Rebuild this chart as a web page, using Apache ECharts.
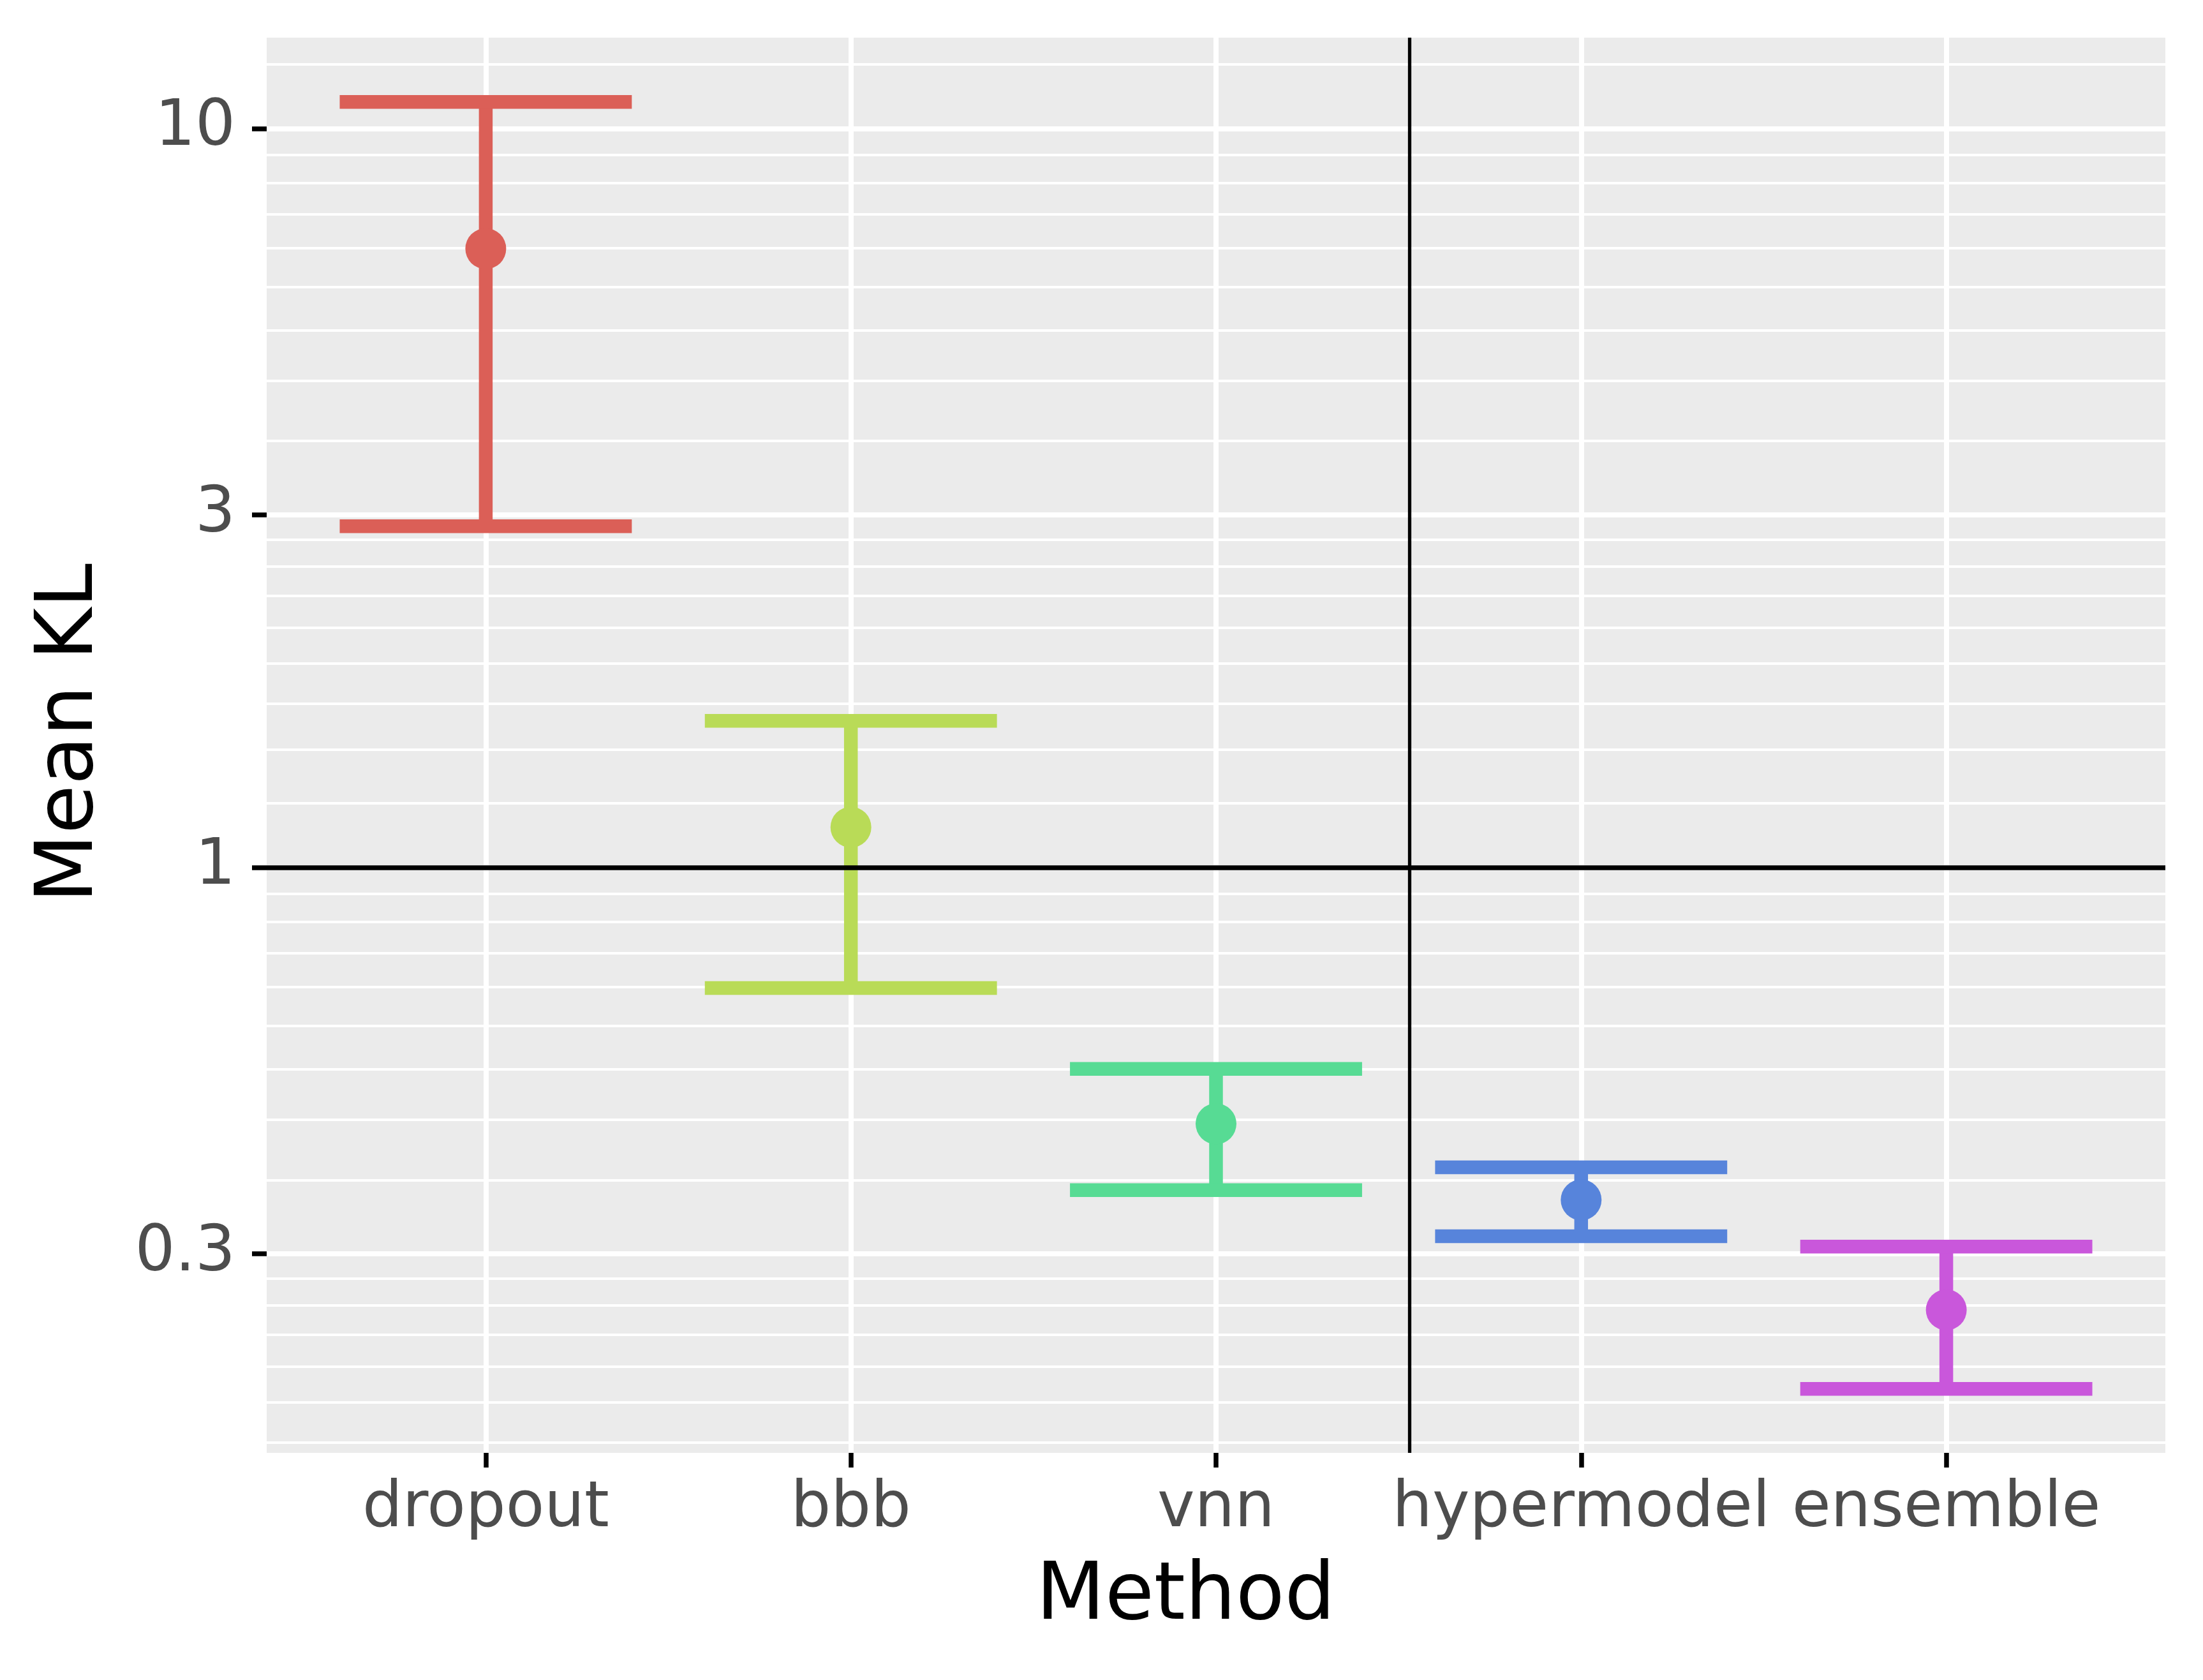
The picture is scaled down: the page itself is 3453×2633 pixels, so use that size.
<!DOCTYPE html>
<html>
<head>
<meta charset="utf-8">
<script src="https://cdn.jsdelivr.net/npm/echarts@6/dist/echarts.min.js"></script>
<style>
  html, body { margin: 0; padding: 0; background: #ffffff; }
  #chart { width: 3453px; height: 2633px; }
</style>
</head>
<body>
<div id="chart"></div>
<script>
// ---- data ----
const categories = ['dropout', 'bbb', 'vnn', 'hypermodel', 'ensemble'];
const meanKL  = [6.88, 1.134, 0.450, 0.355, 0.252];
const lowerKL = [2.897, 0.687, 0.366, 0.317, 0.197];
const upperKL = [10.87, 1.580, 0.534, 0.393, 0.307];
const colors  = ['#DB5F57', '#B9DB57', '#57DB94', '#5784DB', '#C957DB'];
const yBreaks = [0.3, 1, 3, 10];
const yLabels = ['0.3', '1', '3', '10'];
const gridBase = [0.1, 0.3, 1, 3, 10, 30];   // breaks bounding the minor grid
const hlineY = 1;
const vlineX = 3.53;
const yMin = 0.1614, yMax = 13.28;

// minor grid: 8 equally spaced values between consecutive base breaks
const yMinor = [];
for (let i = 0; i < gridBase.length - 1; i++) {
  const a = gridBase[i], b = gridBase[i + 1];
  for (let k = 1; k <= 8; k++) {
    const v = a + (b - a) * k / 9;
    if (v > yMin && v < yMax) yMinor.push(+v.toFixed(6));
  }
}
const xPositions = categories.map((c, i) => i + 1);
const barData = categories.map((c, i) => [i + 1, meanKL[i], lowerKL[i], upperKL[i]]);
const pointData = categories.map((c, i) => [i + 1, meanKL[i]]);

const FONT = 'DejaVu Sans';
const chart = echarts.init(document.getElementById('chart'), null, { renderer: 'canvas' });

chart.setOption({
  animation: false,
  backgroundColor: '#ffffff',
  grid: {
    left: 418, right: 59, top: 59, bottom: 356,
    show: true, backgroundColor: '#EBEBEB', borderWidth: 0,
    containLabel: false, outerBoundsMode: 'none'
  },
  xAxis: {
    type: 'value', min: 0.4, max: 5.6,
    name: 'Method', nameLocation: 'middle', nameGap: 165,
    nameTextStyle: { fontFamily: FONT, fontSize: 125, color: '#000000', padding: [0, 95, 0, 0] },
    axisLine: { show: false },
    axisTick: { show: true, customValues: xPositions, length: 23, lineStyle: { color: '#000000', width: 7.5 } },
    axisLabel: {
      show: true, customValues: xPositions, margin: 40,
      fontFamily: FONT, fontSize: 99, color: '#4D4D4D',
      formatter: v => categories[Math.round(v) - 1] || ''
    },
    splitLine: { show: true, lineStyle: { color: '#FFFFFF', width: 8 } }
  },
  yAxis: [
    {
      type: 'log', logBase: 10, min: yMin, max: yMax,
      name: 'Mean KL', nameLocation: 'middle', nameGap: 244,
      nameTextStyle: { fontFamily: FONT, fontSize: 125, color: '#000000', padding: [0, 0, 0, 38] },
      axisLine: { show: false },
      axisTick: { show: true, customValues: yBreaks, length: 23, lineStyle: { color: '#000000', width: 7.5 } },
      axisLabel: {
        show: true, customValues: yBreaks, margin: 49,
        fontFamily: FONT, fontSize: 99, color: '#4D4D4D',
        formatter: v => {
          let best = 0;
          yBreaks.forEach((b, i) => { if (Math.abs(Math.log(b) - Math.log(v)) < Math.abs(Math.log(yBreaks[best]) - Math.log(v))) best = i; });
          return yLabels[best];
        }
      },
      splitLine: { show: true, lineStyle: { color: '#FFFFFF', width: 8 } },
      z: 1
    },
    {
      type: 'log', logBase: 10, min: yMin, max: yMax, position: 'left',
      axisLine: { show: false },
      axisTick: { show: false, customValues: yMinor },
      axisLabel: { show: false, customValues: yMinor },
      splitLine: { show: true, lineStyle: { color: '#FFFFFF', width: 4 } },
      z: 0
    }
  ],
  series: [
    {
      type: 'line', data: [], silent: true, z: 1,
      markLine: {
        silent: true, symbol: ['none', 'none'], label: { show: false },
        animation: false,
        lineStyle: { color: '#000000', type: 'solid' },
        data: [
          { yAxis: hlineY, lineStyle: { color: '#000000', width: 7.5, type: 'solid' } },
          { xAxis: vlineX, lineStyle: { color: '#000000', width: 5.3, type: 'solid' } }
        ]
      }
    },
    {
      type: 'custom', z: 3, silent: true,
      data: barData,
      encode: { x: 0, y: [1, 2, 3] },
      renderItem: function (params, api) {
        const x = api.value(0), lo = api.value(2), hi = api.value(3);
        const c = colors[params.dataIndex];
        const top = api.coord([x, hi]), bot = api.coord([x, lo]);
        const tl = api.coord([x - 0.4, hi]), tr = api.coord([x + 0.4, hi]);
        const bl = api.coord([x - 0.4, lo]), br = api.coord([x + 0.4, lo]);
        const st = { stroke: c, lineWidth: 21.5, lineCap: 'butt', fill: null };
        return {
          type: 'group',
          children: [
            { type: 'line', shape: { x1: top[0], y1: top[1], x2: bot[0], y2: bot[1] }, style: st },
            { type: 'line', shape: { x1: tl[0], y1: tl[1], x2: tr[0], y2: tr[1] }, style: st },
            { type: 'line', shape: { x1: bl[0], y1: bl[1], x2: br[0], y2: br[1] }, style: st }
          ]
        };
      }
    },
    {
      type: 'scatter', z: 4, silent: true,
      data: pointData,
      symbol: 'circle', symbolSize: 64,
      itemStyle: { color: p => colors[p.dataIndex], opacity: 1 }
    }
  ]
});
</script>
</body>
</html>
